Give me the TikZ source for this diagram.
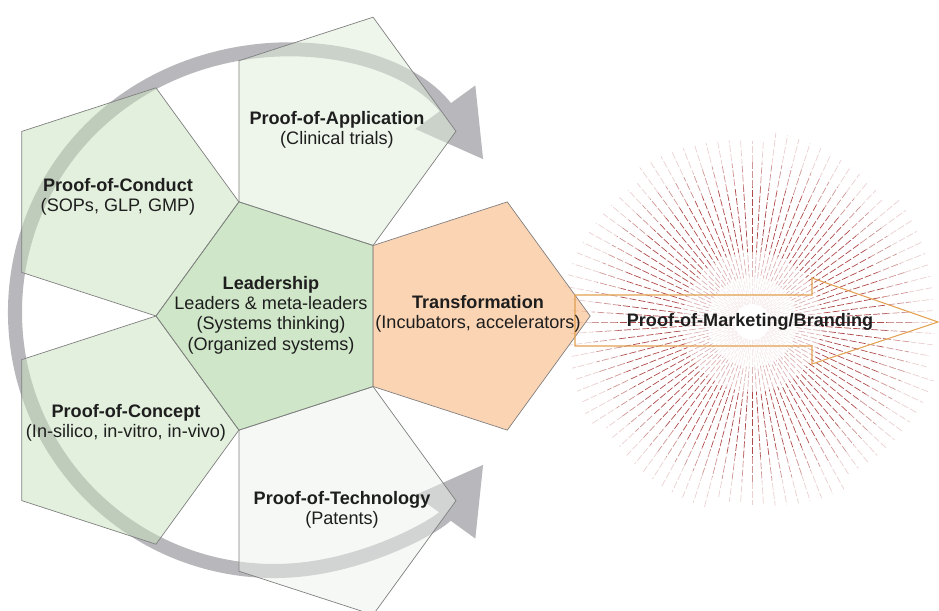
\documentclass[tikz,border=0pt]{standalone}
\usepackage{fontspec}
\setmainfont{Liberation Sans}
\usetikzlibrary{shapes.geometric,arrows.meta}

\definecolor{leadgreen}{RGB}{159,205,147}
\definecolor{midgreen}{RGB}{199,225,189}
\definecolor{palegreen}{RGB}{221,237,217}
\definecolor{faintgreen}{RGB}{235,241,233}
\definecolor{peach}{RGB}{247,169,105}
\definecolor{edgegray}{RGB}{128,128,128}
\definecolor{ringgray}{RGB}{184,184,188}
\definecolor{raycol}{RGB}{160,42,40}
\definecolor{arrowcol}{RGB}{226,160,80}
\definecolor{txtcol}{RGB}{30,30,30}

\tikzset{
  pent/.style={regular polygon, regular polygon sides=5, minimum size=4.8cm,
    inner sep=0pt, outer sep=0pt, draw=edgegray, line width=0.4pt, fill opacity=0.5},
  txt/.style={align=center, text=txtcol, font=\fontsize{10.3}{11.6}\selectfont},
  ray/.style={draw=raycol, line width=0.4pt, dash pattern=on 4pt off 1.2pt},
  ring/.style={draw=ringgray, line width=8pt, >={Triangle[width=1.4cm,length=1.3cm]}, <->},
  blockarrow/.style={draw=arrowcol, line width=0.6pt}
}

\begin{document}
\begin{tikzpicture}[x=0.02cm, y=0.02cm]
  \useasboundingbox (0,0) rectangle (939,610);

  % starburst
  \coordinate (burst) at (752,288);
  \foreach \i in {0,...,99} {
    \pgfmathsetmacro\a{\i*3.6}
    \pgfmathsetmacro\ph{mod(\i*7,5)}
    \pgfmathsetmacro\tail{20+mod(\i*13,12)}
    \draw[ray, dash phase=\ph pt, opacity=.1] (burst) ++(\a:18) -- ++(\a:27);
    \draw[ray, dash phase=\ph pt, opacity=.35] (burst) ++(\a:45) -- ++(\a:25);
    \draw[ray, dash phase=\ph pt, opacity=.85] (burst) ++(\a:70) -- ++(\a:65);
    \draw[ray, dash phase=\ph pt, opacity=.5] (burst) ++(\a:135) -- ++(\a:25);
    \draw[ray, dash phase=\ph pt, opacity=.22] (burst) ++(\a:160) -- ++(\a:\tail);
  }

  % cycle ring
  \coordinate (hub) at (274,298);
  \draw[ring] (hub) ++(36:259) arc[start angle=36, end angle=324, radius=259];

  % pentagons
  \node[pent, fill=palegreen, shape border rotate=-18] (appl) at (336,478.7) {};
  \node[pent, fill=midgreen, shape border rotate=54] (cond) at (118.9,408.1) {};
  \node[pent, fill=midgreen, shape border rotate=126] (conc) at (118.9,179.9) {};
  \node[pent, fill=faintgreen, shape border rotate=198] (tech) at (336,109.3) {};
  \node[pent, fill=leadgreen, shape border rotate=90] (lead) at (276,294) {};
  \node[pent, fill=peach, shape border rotate=-90] (trans) at (470.2,294) {};

  % marketing arrow
  \draw[blockarrow] (575,315) -- (812,315) -- (812,332) -- (938,288)
    -- (812,246) -- (812,264) -- (575,264) -- cycle;

  \node[txt] (appltxt) at (337,480) {\textbf{Proof-of-Application}\\(Clinical trials)};
  \node[txt] (condtxt) at (118,413) {\textbf{Proof-of-Conduct}\\(SOPs, GLP, GMP)};
  \node[txt] (leadtxt) at (271,295) {\textbf{Leadership}\\Leaders \& meta-leaders\\(Systems thinking)\\(Organized systems)};
  \node[txt] (transtxt) at (478,296) {\textbf{Transformation}\\(Incubators, accelerators)};
  \node[txt] (conctxt) at (126,187) {\textbf{Proof-of-Concept}\\(In-silico, in-vitro, in-vivo)};
  \node[txt] (techtxt) at (342,100) {\textbf{Proof-of-Technology}\\(Patents)};
  \node[txt] (mkttxt) at (750,288) {\textbf{Proof-of-Marketing/Branding}};
\end{tikzpicture}
\end{document}
